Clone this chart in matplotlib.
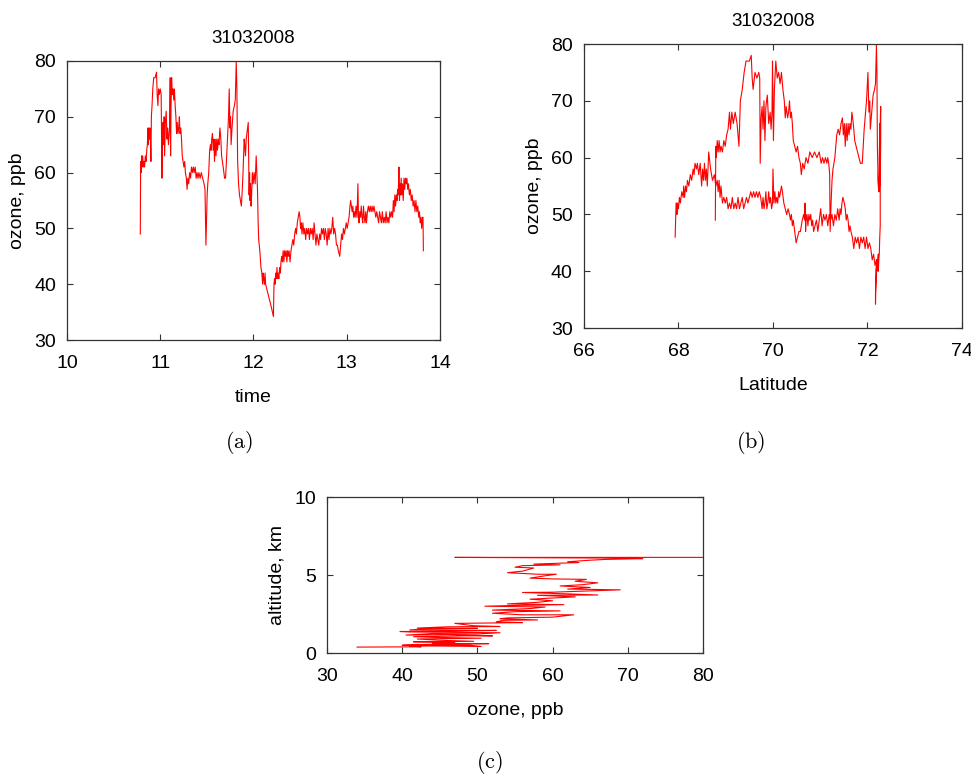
import numpy as np
import matplotlib.pyplot as plt

plt.rcParams['font.family'] = ['Liberation Sans', 'DejaVu Sans']
plt.rcParams['mathtext.fontset'] = 'cm'

# flight 31032008: time (h), latitude (deg N), ozone (ppb)
time_h = [
    10.786, 10.790, 10.795, 10.800, 10.806, 10.812, 10.818, 10.825, 10.832, 10.840,
    10.848, 10.855, 10.862, 10.868, 10.873, 10.878, 10.884, 10.890, 10.895, 10.900,
    10.905, 10.912, 10.920, 10.930, 10.945, 10.960, 10.967, 10.975, 10.982, 10.990,
    11.000, 11.010, 11.018, 11.024, 11.030, 11.036, 11.042, 11.047, 11.055, 11.064,
    11.072, 11.080, 11.088, 11.100, 11.107, 11.111, 11.116, 11.122, 11.130, 11.138,
    11.145, 11.152, 11.160, 11.168, 11.175, 11.182, 11.190, 11.198, 11.205, 11.212,
    11.220, 11.228, 11.236, 11.245, 11.254, 11.262, 11.270, 11.280, 11.288, 11.296,
    11.305, 11.315, 11.325, 11.335, 11.345, 11.355, 11.365, 11.375, 11.385, 11.395,
    11.405, 11.415, 11.428, 11.440, 11.455, 11.470, 11.480, 11.490, 11.497, 11.503,
    11.510, 11.520, 11.530, 11.538, 11.545, 11.552, 11.560, 11.568, 11.575, 11.582,
    11.590, 11.598, 11.606, 11.614, 11.622, 11.630, 11.640, 11.650, 11.658, 11.667,
    11.675, 11.683, 11.690, 11.700, 11.710, 11.718, 11.725, 11.732, 11.740, 11.747,
    11.754, 11.760, 11.770, 11.782, 11.795, 11.805, 11.815, 11.822, 11.830, 11.840,
    11.850, 11.860, 11.870, 11.880, 11.888, 11.900, 11.906, 11.914, 11.922, 11.944,
    11.948, 11.953, 11.958, 11.963, 11.968, 11.974, 11.980, 11.988, 11.996, 12.007,
    12.018, 12.029, 12.043, 12.050, 12.056, 12.068, 12.080, 12.090, 12.098, 12.104,
    12.110, 12.118, 12.124, 12.130, 12.160, 12.190, 12.214, 12.220, 12.226, 12.232,
    12.238, 12.245, 12.252, 12.258, 12.265, 12.272, 12.280, 12.288, 12.295, 12.302,
    12.310, 12.318, 12.326, 12.334, 12.342, 12.350, 12.358, 12.366, 12.374, 12.382,
    12.392, 12.402, 12.412, 12.422, 12.432, 12.442, 12.452, 12.460, 12.470, 12.480,
    12.490, 12.498, 12.505, 12.512, 12.520, 12.530, 12.540, 12.550, 12.560, 12.570,
    12.580, 12.590, 12.600, 12.610, 12.620, 12.630, 12.640, 12.650, 12.660, 12.670,
    12.680, 12.690, 12.700, 12.710, 12.720, 12.730, 12.740, 12.750, 12.760, 12.770,
    12.780, 12.790, 12.800, 12.810, 12.820, 12.830, 12.840, 12.850, 12.860, 12.870,
    12.880, 12.890, 12.900, 12.910, 12.925, 12.935, 12.945, 12.955, 12.965, 12.975,
    12.985, 12.995, 13.005, 13.015, 13.025, 13.035, 13.042, 13.050, 13.058, 13.066,
    13.074, 13.082, 13.090, 13.100, 13.110, 13.120, 13.126, 13.132, 13.140, 13.148,
    13.156, 13.164, 13.172, 13.180, 13.188, 13.196, 13.204, 13.212, 13.222, 13.232,
    13.242, 13.252, 13.262, 13.272, 13.282, 13.292, 13.302, 13.312, 13.322, 13.332,
    13.342, 13.352, 13.362, 13.372, 13.382, 13.392, 13.402, 13.412, 13.422, 13.432,
    13.442, 13.452, 13.462, 13.472, 13.482, 13.492, 13.500, 13.508, 13.516, 13.524,
    13.532, 13.540, 13.546, 13.552, 13.556, 13.560, 13.566, 13.572, 13.578, 13.584,
    13.590, 13.598, 13.606, 13.614, 13.622, 13.630, 13.638, 13.646, 13.654, 13.662,
    13.672, 13.682, 13.692, 13.702, 13.712, 13.722, 13.732, 13.742, 13.752, 13.762,
    13.772, 13.780, 13.788, 13.796, 13.804, 13.812, 13.818, 13.822]

latitude = [
    68.78, 68.79, 68.80, 68.82, 68.84, 68.86, 68.88, 68.90, 68.93, 68.96,
    68.99, 69.02, 69.05, 69.08, 69.10, 69.13, 69.16, 69.20, 69.24, 69.28,
    69.31, 69.35, 69.39, 69.43, 69.50, 69.54, 69.56, 69.58, 69.62, 69.66,
    69.70, 69.72, 69.73, 69.75, 69.77, 69.79, 69.81, 69.83, 69.85, 69.88,
    69.91, 69.94, 69.96, 69.98, 69.99, 70.01, 70.03, 70.06, 70.09, 70.12,
    70.15, 70.18, 70.21, 70.24, 70.26, 70.28, 70.31, 70.33, 70.35, 70.37,
    70.39, 70.41, 70.43, 70.46, 70.49, 70.52, 70.55, 70.58, 70.60, 70.63,
    70.66, 70.70, 70.74, 70.78, 70.83, 70.88, 70.93, 70.98, 71.02, 71.05,
    71.08, 71.11, 71.14, 71.16, 71.18, 71.19, 71.20, 71.21, 71.23, 71.25,
    71.27, 71.31, 71.35, 71.38, 71.41, 71.44, 71.47, 71.49, 71.51, 71.53,
    71.55, 71.57, 71.59, 71.61, 71.63, 71.65, 71.67, 71.70, 71.73, 71.76,
    71.79, 71.82, 71.85, 71.89, 71.91, 71.93, 71.96, 71.98, 72.01, 72.03,
    72.05, 72.06, 72.09, 72.12, 72.15, 72.17, 72.19, 72.20, 72.21, 72.22,
    72.22, 72.23, 72.24, 72.25, 72.25, 72.26, 72.26, 72.27, 72.27, 72.28,
    72.28, 72.27, 72.27, 72.26, 72.26, 72.25, 72.25, 72.26, 72.26, 72.27,
    72.27, 72.27, 72.27, 72.27, 72.27, 72.26, 72.25, 72.24, 72.23, 72.22,
    72.21, 72.20, 72.20, 72.19, 72.18, 72.17, 72.17, 72.18, 72.19, 72.19,
    72.21, 72.22, 72.23, 72.22, 72.19, 72.16, 72.13, 72.10, 72.07, 72.04,
    72.01, 71.98, 71.95, 71.92, 71.89, 71.86, 71.83, 71.80, 71.77, 71.74,
    71.71, 71.68, 71.65, 71.63, 71.61, 71.59, 71.57, 71.55, 71.53, 71.51,
    71.48, 71.46, 71.44, 71.42, 71.40, 71.37, 71.34, 71.31, 71.28, 71.25,
    71.22, 71.19, 71.16, 71.13, 71.10, 71.07, 71.04, 71.01, 70.98, 70.95,
    70.92, 70.89, 70.86, 70.84, 70.82, 70.80, 70.78, 70.76, 70.74, 70.72,
    70.70, 70.69, 70.69, 70.69, 70.69, 70.69, 70.68, 70.68, 70.67, 70.65,
    70.62, 70.58, 70.55, 70.52, 70.49, 70.46, 70.43, 70.41, 70.39, 70.37,
    70.35, 70.32, 70.29, 70.26, 70.23, 70.20, 70.18, 70.16, 70.14, 70.12,
    70.10, 70.08, 70.06, 70.04, 70.02, 70.00, 69.99, 69.97, 69.95, 69.93,
    69.91, 69.89, 69.87, 69.85, 69.83, 69.81, 69.79, 69.77, 69.74, 69.71,
    69.68, 69.65, 69.62, 69.59, 69.56, 69.53, 69.50, 69.47, 69.44, 69.41,
    69.38, 69.35, 69.32, 69.29, 69.26, 69.23, 69.20, 69.17, 69.14, 69.11,
    69.08, 69.05, 69.02, 68.99, 68.96, 68.93, 68.90, 68.88, 68.86, 68.84,
    68.82, 68.79, 68.76, 68.72, 68.68, 68.64, 68.61, 68.59, 68.57, 68.55,
    68.53, 68.51, 68.49, 68.46, 68.43, 68.40, 68.38, 68.35, 68.33, 68.31,
    68.28, 68.25, 68.22, 68.19, 68.17, 68.15, 68.13, 68.11, 68.10, 68.07,
    68.04, 68.02, 68.00, 67.98, 67.97, 67.96, 67.95, 67.93]

ozone = [
    49, 62, 60, 63, 61, 63, 61, 62, 61, 63,
    62, 64, 65, 68, 65, 68, 66, 68, 66, 62,
    70, 72, 75, 77, 77, 78, 74, 72, 75, 74,
    75, 74, 59, 67, 69, 65, 70, 63, 69, 71,
    66, 68, 65, 68, 77, 63, 72, 77, 74, 75,
    73, 75, 72, 70, 67, 69, 67, 68, 70, 67,
    68, 66, 63, 62, 61, 62, 60, 59, 57, 59,
    58, 60, 59, 61, 60, 61, 60, 61, 59, 60,
    59, 60, 59, 60, 59, 58, 57, 47, 52, 56,
    58, 60, 64, 65, 64, 66, 67, 64, 66, 62,
    66, 63, 66, 64, 66, 65, 68, 66, 63, 62,
    61, 60, 59, 59, 62, 65, 68, 70, 75, 68,
    70, 65, 68, 71, 72, 73, 80, 75, 62, 58,
    56, 55, 54, 57, 60, 66, 65, 63, 66, 69,
    63, 56, 60, 55, 58, 54, 56, 60, 58, 60,
    58, 63, 57, 51, 48, 46, 43, 42, 40, 42,
    41, 40, 42, 40, 38, 36, 34.2, 40, 41, 40,
    42, 41, 43, 41, 42, 41, 43, 42, 44, 45,
    44, 46, 44, 46, 45, 46, 44, 46, 45, 46,
    44, 46, 47, 48, 47, 49, 50, 49, 51, 52,
    53, 52, 50, 51, 49, 51, 49, 50, 48, 50,
    49, 50, 48, 50, 49, 50, 48, 51, 49, 47,
    49, 48, 47, 49, 48, 50, 49, 50, 48, 50,
    49, 47, 50, 48, 50, 49, 50, 52, 49, 50,
    49, 47, 47, 46, 45, 47, 49, 48, 50, 49,
    50, 51, 50, 51, 52, 54, 55, 54, 53, 54,
    52, 53, 52, 54, 52, 58, 52, 51, 53, 52,
    54, 52, 51, 54, 52, 51, 53, 51, 53, 54,
    53, 54, 53, 54, 53, 54, 53, 52, 53, 52,
    51, 53, 52, 51, 53, 51, 52, 51, 53, 51,
    52, 51, 53, 52, 53, 52, 55, 53, 56, 54,
    56, 55, 57, 56, 58, 61, 55, 58, 56, 59,
    56, 58, 55, 59, 57, 59, 58, 59, 57, 58,
    56, 57, 55, 56, 54, 55, 53, 55, 53, 54,
    52, 53, 51, 52, 50, 52, 52, 46]

# vertical profile: ozone (ppb) against altitude (km)
prof_ozone = [
    34.0, 42.5, 41.0, 45.0, 50.5, 49.0, 40.0, 43.0, 51.5, 44.0,
    47.0, 41.5, 49.5, 45.0, 42.0, 50.5, 44.5, 41.5, 48.5, 52.0,
    46.0, 40.5, 44.0, 50.0, 53.0, 41.0, 39.7, 47.0, 52.5, 41.0,
    43.0, 50.0, 42.0, 46.0, 53.0, 49.5, 47.0, 56.0, 52.5, 53.5,
    58.0, 53.0, 54.0, 60.0, 62.8, 56.0, 52.0, 55.0, 61.0, 52.0,
    57.0, 59.0, 51.0, 55.0, 61.5, 54.0, 58.0, 60.0, 57.0, 61.0,
    63.0, 58.0, 66.0, 61.5, 56.0, 60.0, 69.0, 62.0, 65.0, 61.0,
    64.0, 66.0, 63.0, 64.5, 60.0, 57.0, 59.0, 60.5, 58.0, 54.0,
    56.0, 57.5, 55.0, 56.0, 61.0, 57.5, 63.5, 62.0, 65.0, 67.0,
    72.0, 70.0, 47.0, 80.0]
prof_alt = [
    0.38, 0.40, 0.45, 0.45, 0.42, 0.50, 0.50, 0.55, 0.60, 0.62,
    0.68, 0.72, 0.75, 0.82, 0.90, 0.95, 1.00, 1.05, 1.10, 1.10,
    1.18, 1.15, 1.25, 1.22, 1.30, 1.35, 1.38, 1.40, 1.45, 1.48,
    1.55, 1.58, 1.60, 1.68, 1.70, 1.75, 1.90, 1.95, 2.00, 2.10,
    2.12, 2.20, 2.25, 2.30, 2.45, 2.45, 2.55, 2.65, 2.70, 2.75,
    2.85, 2.95, 3.00, 3.05, 3.10, 3.15, 3.25, 3.35, 3.45, 3.55,
    3.60, 3.70, 3.72, 3.80, 3.88, 3.90, 4.05, 4.10, 4.20, 4.30,
    4.38, 4.50, 4.60, 4.72, 4.75, 4.80, 4.95, 5.05, 5.05, 5.15,
    5.25, 5.45, 5.50, 5.60, 5.65, 5.70, 5.80, 5.85, 5.95, 6.00,
    6.05, 6.08, 6.13, 6.13]


def style(ax):
    ax.tick_params(direction='in', top=True, right=True, length=4, width=0.8,
                   labelsize=14, pad=11, color='#333333')
    ax.tick_params(axis='y', pad=8)
    for s in ax.spines.values():
        s.set_linewidth(0.9)
        s.set_color('#333333')


fig = plt.figure(figsize=(9.71, 7.79), dpi=100)

# (a) ozone vs time
ax1 = fig.add_axes([0.0690, 0.5635, 0.3841, 0.3582])
ax1.plot(time_h, ozone, color='red', lw=0.8)
ax1.set_xlim(10, 14)
ax1.set_ylim(30, 80)
ax1.set_xticks([10, 11, 12, 13, 14])
ax1.set_yticks([30, 40, 50, 60, 70, 80])
ax1.set_title('31032008', fontsize=13.5, pad=13)
ax1.set_xlabel('time', fontsize=14, labelpad=12)
ax1.set_ylabel('ozone, ppb', fontsize=14, labelpad=6)
style(ax1)

# (b) ozone vs latitude
ax2 = fig.add_axes([0.6014, 0.5789, 0.3893, 0.3646])
ax2.plot(latitude, ozone, color='red', lw=0.8)
ax2.set_xlim(66, 74)
ax2.set_ylim(30, 80)
ax2.set_xticks([66, 68, 70, 72, 74])
ax2.set_yticks([30, 40, 50, 60, 70, 80])
ax2.set_title('31032008', fontsize=13.5, pad=13)
ax2.set_xlabel('Latitude', fontsize=14, labelpad=12)
ax2.set_ylabel('ozone, ppb', fontsize=14, labelpad=6)
style(ax2)

# (c) profile
ax3 = fig.add_axes([0.3368, 0.1617, 0.3872, 0.2003])
ax3.plot(prof_ozone, prof_alt, color='red', lw=0.8)
ax3.set_xlim(30, 80)
ax3.set_ylim(0, 10)
ax3.set_xticks([30, 40, 50, 60, 70, 80])
ax3.set_yticks([0, 5, 10])
ax3.set_xlabel('ozone, ppb', fontsize=14, labelpad=12)
ax3.set_ylabel('altitude, km', fontsize=14, labelpad=6)
style(ax3)

fig.text(239/971, 1 - 443/779, r'$\mathrm{(a)}$', fontsize=16, ha='center', va='center')
fig.text(751/971, 1 - 443/779, r'$\mathrm{(b)}$', fontsize=16, ha='center', va='center')
fig.text(489/971, 1 - 763/779, r'$\mathrm{(c)}$', fontsize=16, ha='center', va='center')

plt.savefig('out.png', dpi=100)
